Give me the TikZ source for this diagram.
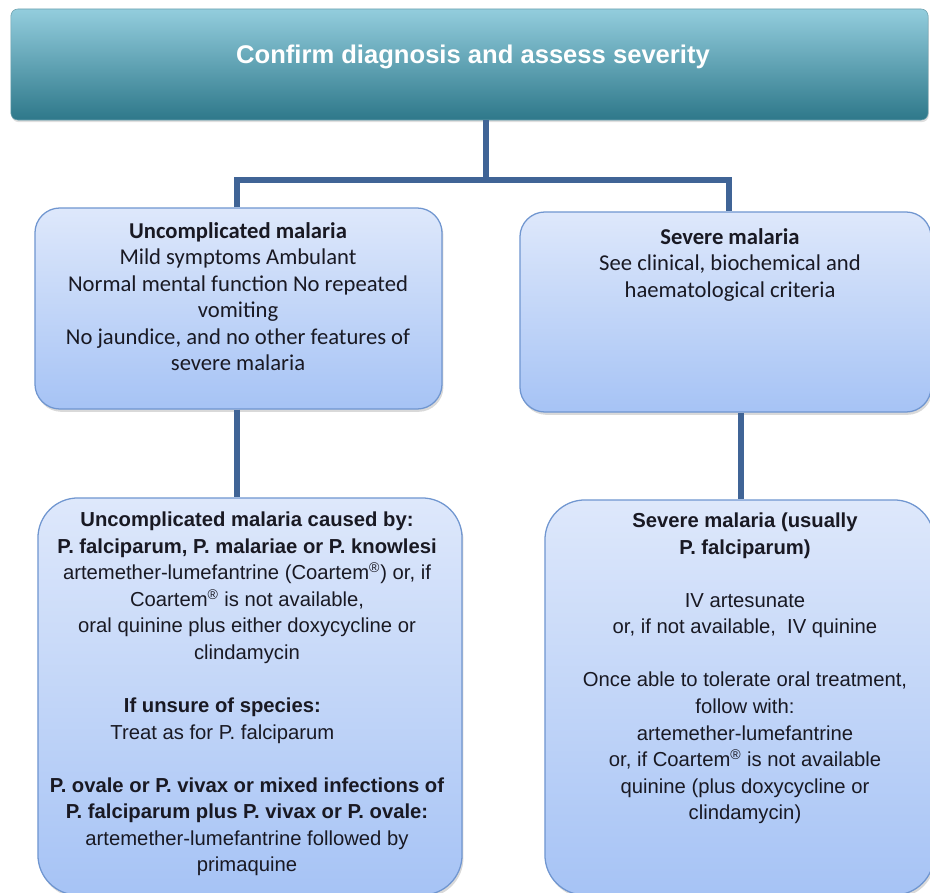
\documentclass[tikz,border=0pt]{standalone}
\usepackage{fontspec}
\setmainfont{Liberation Sans}
\newfontfamily\calibrifont{Carlito}
\usetikzlibrary{shadows}
\definecolor{titletop}{RGB}{147,205,221}
\definecolor{titlemid}{RGB}{75,172,198}
\definecolor{titlebot}{RGB}{46,120,138}
\definecolor{boxtop}{RGB}{222,232,251}
\definecolor{boxbot}{RGB}{166,195,245}
\definecolor{boxline}{RGB}{112,150,208}
\definecolor{linkblue}{RGB}{64,100,150}
\definecolor{inktext}{RGB}{25,25,35}

\begin{document}
\begin{tikzpicture}[x = 0.025cm, y = -0.025cm,
    headbox/.style = {rounded corners = 0.175cm, top color = titletop, middle color = titlemid,
      bottom color = titlebot, draw = titlebot!70,
      drop shadow = {shadow xshift = 0.5pt, shadow yshift = -1.5pt, opacity = 0.25}},
    casebox/.style = {rounded corners = 0.625cm, top color = boxtop, bottom color = boxbot,
      draw = boxline, line width = 0.9pt,
      drop shadow = {shadow xshift = 1pt, shadow yshift = -2pt, opacity = 0.3}},
    treatbox/.style = {casebox, rounded corners = 1cm},
    link/.style = {line width = 4pt, draw = linkblue},
    casetext/.style = {anchor = north, inner sep = 0pt, align = center, text = inktext,
      font = \calibrifont\fontsize{16.1}{18.85}\selectfont},
    treattext/.style = {anchor = north, inner sep = 0pt, align = center, text = inktext,
      font = \fontsize{14.4}{18.85}\selectfont}]
  \useasboundingbox (0,0) rectangle (930,893);
  \clip (0,0) rectangle (930,893);

  % boxes
  \node (diag)     at (469.5,64.5) [headbox, minimum width = 22.925cm, minimum height = 2.775cm] {};
  \node (uncomp)   at (238.5,308.5) [casebox, minimum width = 10.175cm, minimum height = 5.025cm] {};
  \node (severe)   at (725.5,312) [casebox, minimum width = 10.275cm, minimum height = 5cm] {};
  \node (uncomptx) at (250,696.5) [treatbox, minimum width = 10.6cm, minimum height = 9.925cm] {};
  \node (severetx) at (739.5,697.5) [treatbox, minimum width = 9.725cm, minimum height = 9.875cm] {};
  \coordinate (split) at (486,180);

  % connectors
  \draw [link] (diag.south -| split) -- (split);
  \draw [link, line join = miter] (uncomp.north -| 237,0) |- (split) -| (severe.north -| 729,0);
  \draw [link] (uncomp.south -| 237,0) -- (uncomptx.north -| 237,0);
  \draw [link] (severe.south -| 741,0) -- (severetx.north -| 741,0);

  % texts
  \node (diaglbl) at (473,64) [anchor = base, inner sep = 0pt, text = white,
    font = \bfseries\fontsize{18.2}{22}\selectfont] {Confirm diagnosis and assess severity};
  \node (uncomplbl) at (238,222) [casetext] {\textbf{Uncomplicated malaria}\\
    Mild symptoms Ambulant\\ Normal mental function No repeated\\ vomiting\\
    No jaundice, and no other features of\\ severe malaria};
  \node (severelbl) at (730,228) [casetext] {\textbf{Severe malaria}\\
    See clinical, biochemical and\\ haematological criteria};
  \node (uncomptxlbl) at (247,512) [treattext] {\textbf{Uncomplicated malaria caused by:}\\
    \textbf{P. falciparum, P. malariae or P. knowlesi}\\
    artemether-lumefantrine (Coartem\textsuperscript{®}) or, if\\
    Coartem\textsuperscript{®} is not available,\\
    oral quinine plus either doxycycline or\\ clindamycin\\[18.85pt]
    \textbf{If unsure of species:}\rule{35pt}{0pt}\\
    Treat as for P. falciparum\rule{35pt}{0pt}\\[18.85pt]
    \textbf{P. ovale or P. vivax or mixed infections of}\\
    \textbf{P. falciparum plus P. vivax or P. ovale:}\\
    artemether-lumefantrine followed by\\ primaquine};
  \node (severetxlbl) at (745,513) [treattext] {\textbf{Severe malaria (usually}\\
    \textbf{P. falciparum)}\\[18.85pt]
    IV artesunate\\ or, if not available,~ IV quinine\\[18.85pt]
    Once able to tolerate oral treatment,\\ follow with:\\ artemether-lumefantrine\\
    or, if Coartem\textsuperscript{®} is not available\\
    quinine (plus doxycycline or\\ clindamycin)};
\end{tikzpicture}
\end{document}
